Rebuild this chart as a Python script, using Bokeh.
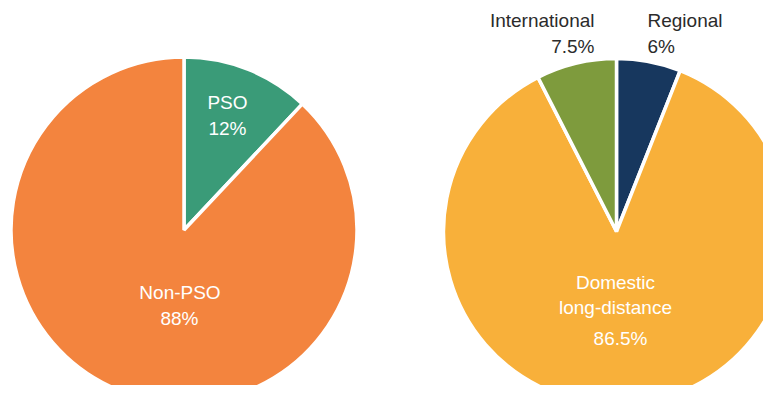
import math
from bokeh.plotting import figure
from bokeh.models import Range1d, ColumnDataSource
from bokeh.core.properties import value
from bokeh.embed import file_html
from bokeh.resources import INLINE

# ---- data ----
left_cats = ["PSO", "Non-PSO"]
left_vals = [12, 88]
right_cats = ["Regional", "Domestic\nlong-distance", "International"]
right_vals = [6, 86.5, 7.5]

left_colors = ["#3A9B78", "#F3843E"]
right_colors = ["#17375E", "#F8B03A", "#7E9B3D"]

# ---- layout (image pixel coordinates) ----
W, H = 763, 385
def Y(img_y):
    return H - img_y

FONT = "Liberation Sans"
FSIZE = "19px"

p = figure(width=W, height=H, output_backend="svg", toolbar_location=None,
           x_range=Range1d(0, W), y_range=Range1d(0, H),
           min_border=0)
p.axis.visible = False
p.grid.visible = False
p.outline_line_color = None
p.background_fill_color = "white"
p.border_fill_color = "white"


def pie(cx, cy, r, vals, colors):
    total = sum(vals)
    starts, ends = [], []
    acc = 0.0
    for v in vals:
        starts.append(math.pi / 2 - 2 * math.pi * acc / total)
        acc += v
        ends.append(math.pi / 2 - 2 * math.pi * acc / total)
    src = ColumnDataSource(dict(x=[cx] * len(vals), y=[Y(cy)] * len(vals),
                                start=starts, end=ends, color=colors))
    p.wedge(x="x", y="y", radius=r, start_angle="start", end_angle="end",
            direction="clock", fill_color="color", line_color="white",
            line_width=3.5, source=src)


pie(183.5, 229.5, 173, left_vals, left_colors)
pie(616, 231, 173, right_vals, right_colors)


def label(x, img_y, txt, color, align="center"):
    p.text(x=[x], y=[Y(img_y)], text=[txt], text_color=color,
           text_font=value(FONT), text_font_size=FSIZE,
           text_align=align, text_baseline="middle")

WHITE = "#FFFFFF"
DARK = "#2B2B2B"

def pct(v):
    return f"{v:g}%"

# left pie labels
label(227, 101.5, left_cats[0], WHITE)
label(227, 128, pct(left_vals[0]), WHITE)
label(179.5, 291.5, left_cats[1], WHITE)
label(179, 318, pct(left_vals[1]), WHITE)

# right pie labels
label(647, 20, right_cats[0], DARK, "left")
label(647, 46, pct(right_vals[0]), DARK, "left")
dom_lines = right_cats[1].split("\n")
label(615, 282, dom_lines[0], WHITE)
label(615, 307, dom_lines[1], WHITE)
label(620, 337.5, pct(right_vals[1]), WHITE)
label(594, 20, right_cats[2], DARK, "right")
label(594, 46, pct(right_vals[2]), DARK, "right")

open("out.html", "w").write(file_html(p, INLINE))
